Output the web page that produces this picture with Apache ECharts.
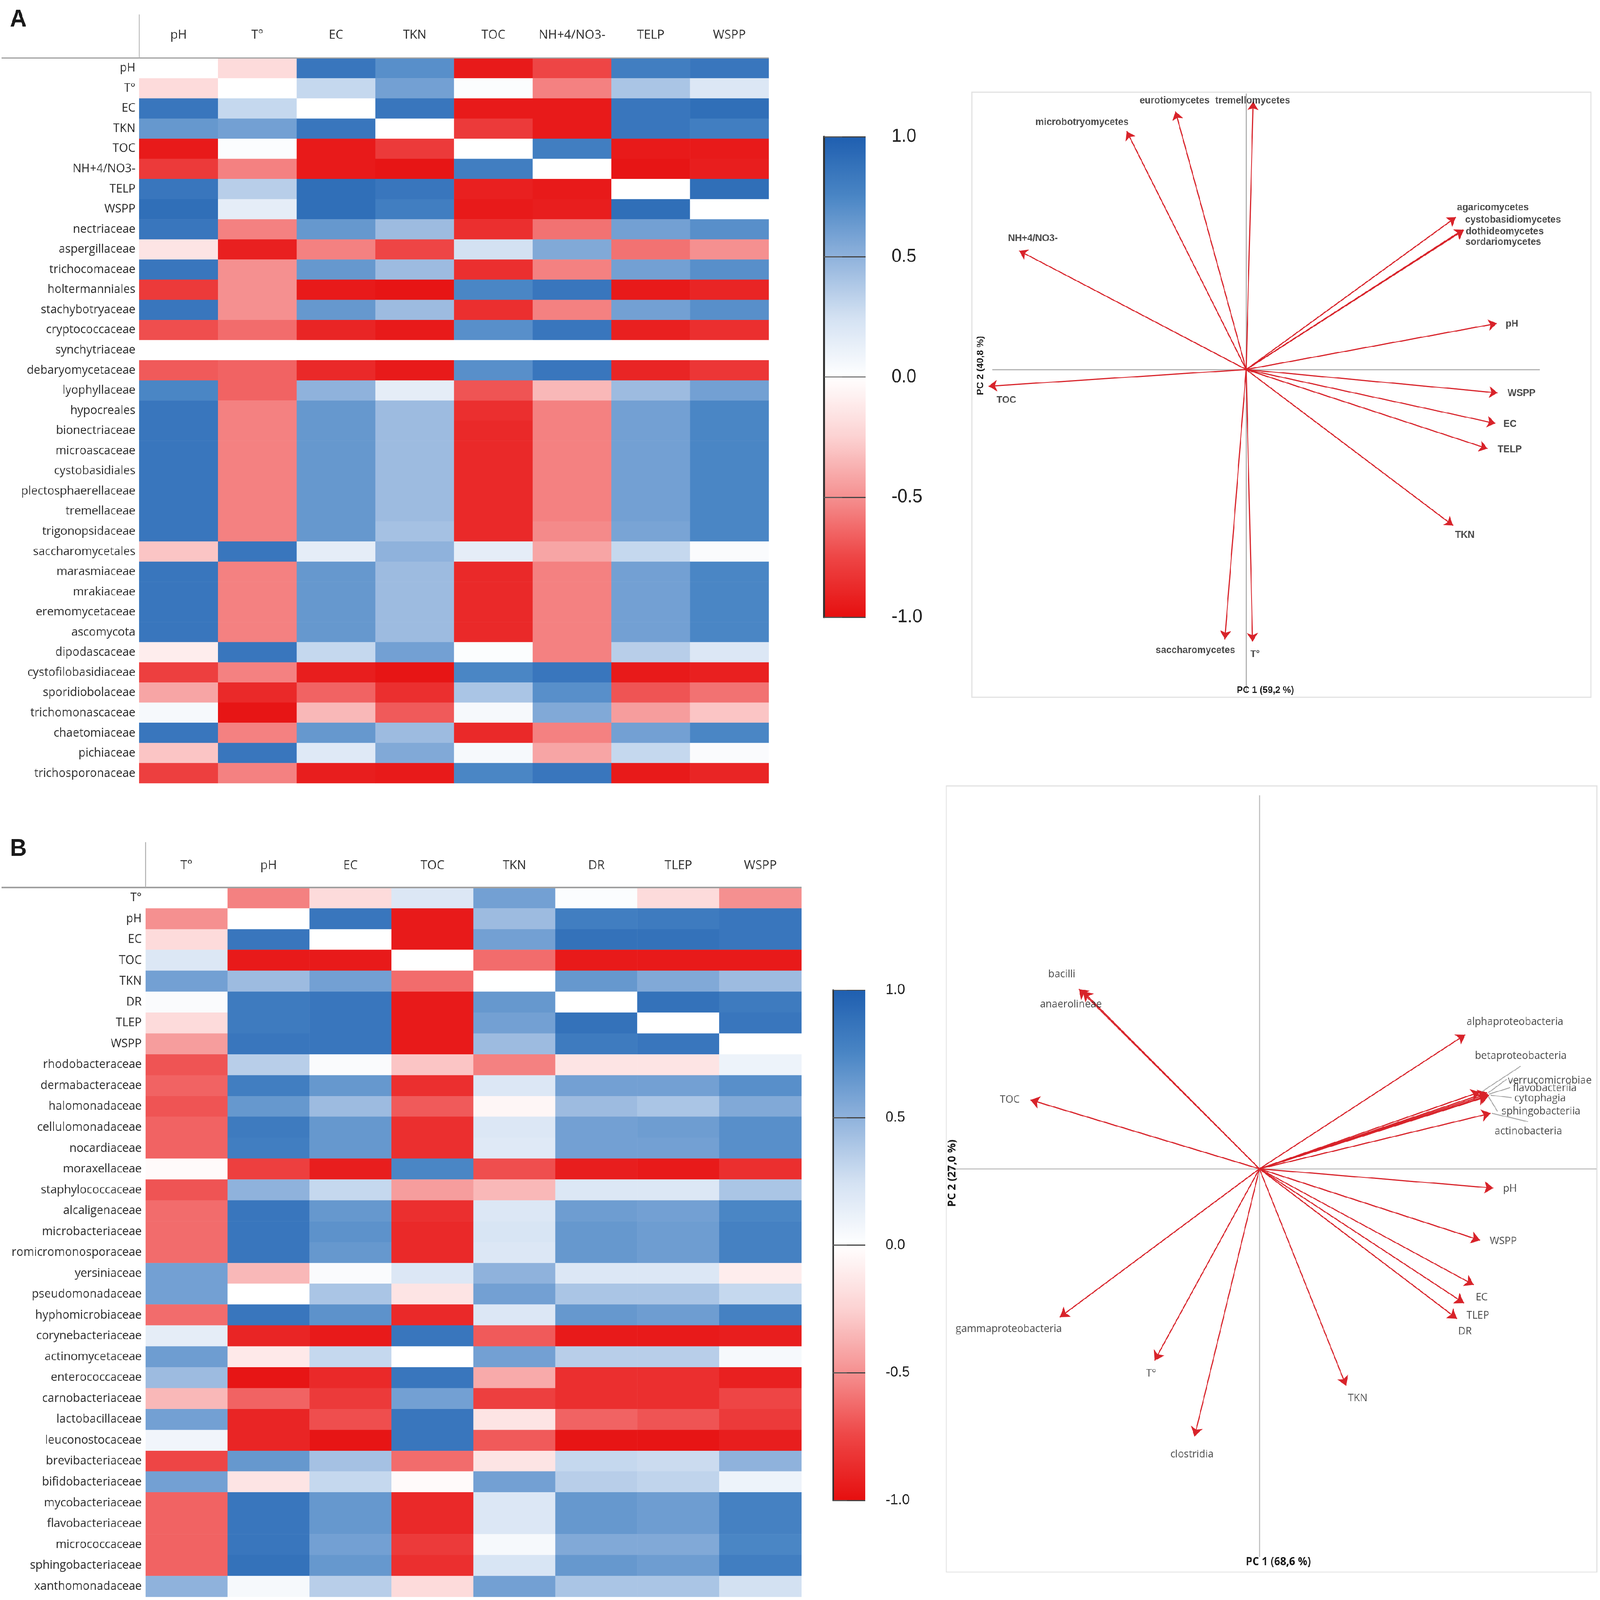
<!DOCTYPE html>
<html><head><meta charset="utf-8">
<script src="https://cdn.jsdelivr.net/npm/echarts@6/dist/echarts.min.js"></script>
<style>html,body{margin:0;padding:0;background:#fff;overflow:hidden}#c{width:4562px;height:4412px;transform-origin:0 0}</style>
</head><body><div id="c"></div>
<script>
// ---------------- Panel A heatmap ----------------
const colsA = ['pH','T°','EC','TKN','TOC','NH+4/NO3-','TELP','WSPP'];
const rowsA = ['pH','T°','EC','TKN','TOC','NH+4/NO3-','TELP','WSPP','nectriaceae','aspergillaceae','trichocomaceae','holtermanniales','stachybotryaceae','cryptococcaceae','synchytriaceae','debaryomycetaceae','lyophyllaceae','hypocreales','bionectriaceae','microascaceae','cystobasidiales','plectosphaerellaceae','tremellaceae','trigonopsidaceae','saccharomycetales','marasmiaceae','mrakiaceae','eremomycetaceae','ascomycota','dipodascaceae','cystofilobasidiaceae','sporidiobolaceae','trichomonascaceae','chaetomiaceae','pichiaceae','trichosporonaceae'];
const valsA = [
 [0,-0.2,0.85,0.7,-0.95,-0.75,0.8,0.85],
 [-0.2,0,0.3,0.6,0.02,-0.55,0.4,0.2],
 [0.85,0.3,0,0.85,-0.95,-0.95,0.85,0.9],
 [0.65,0.6,0.85,0,-0.8,-0.95,0.85,0.8],
 [-0.95,0.02,-0.95,-0.8,0,0.8,-0.95,-0.95],
 [-0.8,-0.55,-0.95,-0.97,0.8,0,-0.97,-0.93],
 [0.85,0.35,0.9,0.85,-0.92,-0.95,0,0.9],
 [0.9,0.15,0.9,0.8,-0.95,-0.93,0.9,0],
 [0.85,-0.55,0.65,0.45,-0.85,-0.6,0.6,0.7],
 [-0.15,-0.92,-0.55,-0.75,0.25,0.55,-0.6,-0.5],
 [0.85,-0.5,0.65,0.45,-0.85,-0.55,0.6,0.7],
 [-0.8,-0.5,-0.95,-0.97,0.75,0.85,-0.95,-0.9],
 [0.85,-0.5,0.65,0.45,-0.85,-0.55,0.6,0.7],
 [-0.72,-0.62,-0.9,-0.95,0.7,0.85,-0.92,-0.85],
 [0,0,0,0,0,0,0,0],
 [-0.68,-0.65,-0.88,-0.95,0.7,0.85,-0.9,-0.82],
 [0.75,-0.65,0.5,0.15,-0.7,-0.35,0.45,0.6],
 [0.85,-0.55,0.65,0.45,-0.85,-0.55,0.6,0.75],
 [0.85,-0.55,0.65,0.45,-0.88,-0.55,0.6,0.75],
 [0.85,-0.55,0.65,0.45,-0.88,-0.55,0.6,0.75],
 [0.85,-0.55,0.65,0.45,-0.88,-0.55,0.6,0.75],
 [0.85,-0.55,0.65,0.45,-0.88,-0.55,0.6,0.75],
 [0.85,-0.55,0.65,0.45,-0.88,-0.55,0.6,0.75],
 [0.85,-0.55,0.65,0.42,-0.88,-0.52,0.58,0.75],
 [-0.3,0.85,0.15,0.5,0.15,-0.42,0.3,0.03],
 [0.85,-0.55,0.65,0.45,-0.88,-0.55,0.6,0.75],
 [0.85,-0.55,0.65,0.45,-0.88,-0.55,0.6,0.75],
 [0.85,-0.55,0.65,0.45,-0.88,-0.55,0.6,0.75],
 [0.85,-0.55,0.65,0.45,-0.88,-0.55,0.6,0.75],
 [-0.1,0.85,0.3,0.6,0.02,-0.55,0.35,0.2],
 [-0.78,-0.55,-0.93,-0.97,0.75,0.85,-0.95,-0.92],
 [-0.42,-0.88,-0.65,-0.85,0.4,0.7,-0.7,-0.6],
 [0.05,-0.97,-0.35,-0.68,0.05,0.55,-0.45,-0.3],
 [0.85,-0.55,0.65,0.45,-0.88,-0.55,0.6,0.75],
 [-0.3,0.85,0.18,0.55,0.05,-0.42,0.3,0.03],
 [-0.78,-0.55,-0.93,-0.95,0.75,0.85,-0.95,-0.9]
];

// ---------------- Panel B heatmap ----------------
const colsB = ['T°','pH','EC','TOC','TKN','DR','TLEP','WSPP'];
const rowsB = ['T°','pH','EC','TOC','TKN','DR','TLEP','WSPP','rhodobacteraceae','dermabacteraceae','halomonadaceae','cellulomonadaceae','nocardiaceae','moraxellaceae','staphylococcaceae','alcaligenaceae','microbacteriaceae','romicromonosporaceae','yersiniaceae','pseudomonadaceae','hyphomicrobiaceae','corynebacteriaceae','actinomycetaceae','enterococcaceae','carnobacteriaceae','lactobacillaceae','leuconostocaceae','brevibacteriaceae','bifidobacteriaceae','mycobacteriaceae','flavobacteriaceae','micrococcaceae','sphingobacteriaceae','xanthomonadaceae'];
const valsB = [
 [0,-0.55,-0.2,0.2,0.6,0.02,-0.2,-0.5],
 [-0.5,0,0.85,-0.95,0.45,0.8,0.82,0.85],
 [-0.2,0.85,0,-0.95,0.6,0.88,0.88,0.85],
 [0.2,-0.95,-0.95,0,-0.62,-0.95,-0.95,-0.95],
 [0.6,0.45,0.6,-0.62,0,0.65,0.55,0.45],
 [0.03,0.82,0.85,-0.95,0.65,0,0.88,0.82],
 [-0.2,0.82,0.85,-0.95,0.6,0.88,0,0.85],
 [-0.45,0.85,0.85,-0.95,0.45,0.82,0.85,0],
 [-0.7,0.35,0.03,-0.3,-0.55,-0.15,-0.15,0.1],
 [-0.65,0.8,0.65,-0.85,0.2,0.6,0.6,0.7],
 [-0.7,0.65,0.45,-0.68,-0.05,0.45,0.4,0.55],
 [-0.65,0.82,0.65,-0.85,0.2,0.6,0.62,0.7],
 [-0.65,0.8,0.65,-0.85,0.18,0.6,0.6,0.7],
 [-0.03,-0.78,-0.93,0.75,-0.72,-0.93,-0.95,-0.85],
 [-0.7,0.5,0.3,-0.45,-0.35,0.2,0.2,0.4],
 [-0.62,0.85,0.65,-0.85,0.2,0.62,0.6,0.75],
 [-0.62,0.85,0.68,-0.88,0.22,0.65,0.62,0.78],
 [-0.62,0.85,0.65,-0.88,0.2,0.65,0.62,0.78],
 [0.6,-0.35,0.03,0.2,0.5,0.2,0.2,-0.1],
 [0.6,0,0.4,-0.15,0.6,0.4,0.4,0.3],
 [-0.62,0.85,0.68,-0.88,0.2,0.65,0.62,0.78],
 [0.15,-0.9,-0.95,0.85,-0.68,-0.95,-0.95,-0.93],
 [0.62,-0.12,0.3,0,0.6,0.35,0.35,0.05],
 [0.45,-0.97,-0.88,0.85,-0.4,-0.85,-0.85,-0.92],
 [-0.35,-0.65,-0.8,0.6,-0.78,-0.85,-0.85,-0.75],
 [0.6,-0.9,-0.72,0.85,-0.15,-0.65,-0.7,-0.8],
 [0.08,-0.9,-0.97,0.85,-0.68,-0.97,-0.97,-0.93],
 [-0.75,0.65,0.42,-0.62,-0.15,0.3,0.28,0.5],
 [0.6,-0.15,0.3,-0.03,0.6,0.35,0.32,0.1],
 [-0.65,0.85,0.65,-0.88,0.2,0.65,0.62,0.78],
 [-0.65,0.85,0.65,-0.88,0.2,0.65,0.62,0.78],
 [-0.65,0.85,0.6,-0.8,0.05,0.55,0.55,0.75],
 [-0.65,0.88,0.65,-0.85,0.22,0.65,0.62,0.8],
 [0.5,0.05,0.35,-0.2,0.6,0.4,0.4,0.25]
];

// ---------------- Panel A biplot (PC1, PC2 loadings) ----------------
const namesPA = ['tremellomycetes','eurotiomycetes','microbotryomycetes','NH+4/NO3-','agaricomycetes','cystobasidiomycetes','dothideomycetes','sordariomycetes','pH','TOC','WSPP','EC','TELP','TKN','saccharomycetes','T°'];
const pc1A = [0.023,-0.232,-0.392,-0.745,0.688,0.712,0.714,0.713,0.822,-0.845,0.825,0.818,0.792,0.679,-0.070,0.021];
const pc2A = [0.850,0.819,0.756,0.377,0.483,0.444,0.442,0.443,0.146,-0.053,-0.074,-0.171,-0.251,-0.495,-0.856,-0.863];
const crossAx = [-0.833,0.964];
const crossAy = [-1.022,0.876];

// ---------------- Panel B biplot ----------------
const namesPB = ['bacilli','anaerolineae','TOC','alphaproteobacteria','betaproteobacteria','verrucomicrobiae','flavobacteriia','cytophagia','sphingobacteriia','actinobacteria','pH','WSPP','EC','TLEP','DR','TKN','clostridia','T°','gammaproteobacteria'];
const pc1B = [-0.515,-0.503,-0.653,0.587,0.629,0.649,0.651,0.655,0.649,0.659,0.667,0.629,0.611,0.583,0.563,0.247,-0.185,-0.299,-0.569];
const pc2B = [0.496,0.489,0.190,0.370,0.212,0.210,0.206,0.203,0.199,0.153,-0.053,-0.197,-0.320,-0.370,-0.413,-0.598,-0.738,-0.529,-0.409];
const crossBx = [-0.887,0.961];
const crossBy = [-1.070,1.030];

// ---------------- style / layout (pixel offsets of labels) ----------------
const labA = {
 'tremellomycetes':[-1,-2,'center'],'eurotiomycetes':[-2,-29,'center'],'microbotryomycetes':[6,-24,'right'],
 'NH+4/NO3-':[-31,-33,'left'],'agaricomycetes':[4,-26,'left'],'cystobasidiomycetes':[6,-26,'left'],
 'dothideomycetes':[6,4,'left'],'sordariomycetes':[6,34,'left'],'pH':[26,2,'left'],'TOC':[23,39,'left'],
 'WSPP':[29,2,'left'],'EC':[23,2,'left'],'TELP':[29,3,'left'],'TKN':[6,27,'left'],
 'saccharomycetes':[30,31,'right'],'T°':[-6,36,'left']
};
const labB = {
 'bacilli':[-48,-40,'center'],'anaerolineae':[-34,36,'center'],'TOC':[-30,0,'right'],
 'alphaproteobacteria':[4,-35,'left'],'betaproteobacteria':[-14,-99,'left'],'verrucomicrobiae':[60,-33,'left'],
 'flavobacteriia':[72,-16,'left'],'cytophagia':[72,9,'left'],'sphingobacteriia':[42,41,'left'],
 'actinobacteria':[12,50,'left'],'pH':[28,2,'left'],'WSPP':[28,3,'left'],'EC':[6,35,'left'],
 'TLEP':[8,35,'left'],'DR':[4,36,'left'],'TKN':[6,35,'left'],'clostridia':[-7,50,'center'],
 'T°':[-9,36,'center'],'gammaproteobacteria':[6,33,'right']
};
const leaderB = {'betaproteobacteria':[130,28],'verrucomicrobiae':[-4,-4],'flavobacteriia':[-8,-2],'cytophagia':[-8,-2],'sphingobacteriia':[-12,0],'actinobacteria':[95,-27]};

function heat(vals){const d=[];vals.forEach((row,r)=>row.forEach((v,c)=>d.push([c,r,v])));return d;}
const scaleColors = ['#e60f0f','#ee4545','#f59090','#fcd2d2','#ffffff','#d3e1f2','#8fb2dc','#4a86c5','#1f5fb0'];
const RED='#d8232a';

// fit the 4562x4412 drawing into whatever CSS viewport the window provides
const host = document.getElementById('c');
const sx = (window.innerWidth || 4562) / 4562, sy = (window.innerHeight || 4412) / 4412;
host.style.transform = 'scale(' + sx + ',' + sy + ')';

const chart = echarts.init(host, null, {renderer:'canvas', width:4562, height:4412});

function heatAxes(gi, cols, rows, margin){
 return {
  x:{type:'category',gridIndex:gi,data:cols,position:'top',axisLine:{show:false},axisTick:{show:false},splitLine:{show:false},
     axisLabel:{interval:0,margin:margin,fontSize:35,color:'#2e2e2e',fontFamily:'Open Sans'}},
  y:{type:'category',gridIndex:gi,data:rows,inverse:true,axisLine:{show:false},axisTick:{show:false},splitLine:{show:false},
     axisLabel:{interval:0,margin:11,fontSize:33,color:'#2e2e2e',fontFamily:'Open Sans'}}
 };
}
const hA = heatAxes(0, colsA, rowsA, 45);
const hB = heatAxes(3, colsB, rowsB, 42);

function barAxisRight(gi, fs, tick, margin){
 return {type:'value',gridIndex:gi,min:-1,max:1,interval:0.5,position:'right',z:10,
  axisLine:{show:true,lineStyle:{color:'#9a9a9a',width:4}},
  axisTick:{show:true,length:tick,lineStyle:{color:'#555',width:3}},
  splitLine:{show:true,lineStyle:{color:'#444',width:3}},
  axisLabel:{margin:margin,fontSize:fs,color:'#222',fontFamily:'Liberation Sans',formatter:v=>v.toFixed(1)}};
}
function barAxisLeft(gi){
 return {type:'value',gridIndex:gi,min:-1,max:1,position:'left',z:10,
  axisLine:{show:true,lineStyle:{color:'#333',width:5}},axisTick:{show:false},axisLabel:{show:false},splitLine:{show:false}};
}
const hidX = (gi,min,max)=>({type:'value',gridIndex:gi,min:min,max:max,show:false});

function arrowData(n,x,y){return n.map((nm,i)=>({name:nm,coords:[[0,0],[x[i],y[i]]]}));}
function labelData(n,x,y,lab){return n.map((nm,i)=>{const o=lab[nm];return {name:nm,value:[x[i],y[i]],
  label:{position:[o[0],o[1]],align:o[2],verticalAlign:'middle'}};});}
function crossData(cx,cy){return [{coords:[[cx[0],0],[cx[1],0]]},{coords:[[0,cy[0]],[0,cy[1]]]}];}

const option = {
 animation:false,
 backgroundColor:'#ffffff',
 textStyle:{fontFamily:'Open Sans'},
 grid:[
  {left:397,top:160,width:1795,height:2000},
  {left:2349,top:377,width:119,height:1325},
  {left:2771,top:254,width:1765,height:1669,show:true,borderColor:'#e2e2e2',borderWidth:3},
  {left:415,top:2447,width:1870,height:1956},
  {left:2375,top:2730,width:92,height:1407},
  {left:2698,top:2167,width:1855,height:2168,show:true,borderColor:'#e2e2e2',borderWidth:3}
 ],
 xAxis:[hA.x, hidX(1,0,1), hidX(2,-0.9,1.131), hB.x, hidX(4,0,1), hidX(5,-0.893,0.962)],
 yAxis:[hA.y, barAxisRight(1,51,52,74), {type:'value',gridIndex:2,min:-1.04,max:0.88,show:false},
        hB.y, barAxisRight(4,40,40,58), {type:'value',gridIndex:5,min:-1.112,max:1.056,show:false},
        barAxisLeft(1), barAxisLeft(4)],
 visualMap:[
  {type:'continuous',min:-1,max:1,seriesIndex:0,calculable:false,orient:'vertical',left:2349,top:377,
   itemWidth:119,itemHeight:1325,padding:0,text:null,inRange:{color:scaleColors},z:4},
  {type:'continuous',min:-1,max:1,seriesIndex:1,calculable:false,orient:'vertical',left:2375,top:2730,
   itemWidth:92,itemHeight:1407,padding:0,text:null,inRange:{color:scaleColors},z:4}
 ],
 series:[
  {type:'heatmap',xAxisIndex:0,yAxisIndex:0,data:heat(valsA),itemStyle:{borderWidth:0},emphasis:{disabled:true},progressive:0},
  {type:'heatmap',xAxisIndex:3,yAxisIndex:3,data:heat(valsB),itemStyle:{borderWidth:0},emphasis:{disabled:true},progressive:0},
  {type:'lines',coordinateSystem:'cartesian2d',xAxisIndex:2,yAxisIndex:2,data:crossData(crossAx,crossAy),
   symbol:'none',lineStyle:{color:'#b4b4b4',width:3,opacity:1},silent:true},
  {type:'lines',coordinateSystem:'cartesian2d',xAxisIndex:2,yAxisIndex:2,data:arrowData(namesPA,pc1A,pc2A),
   symbol:['none','arrow'],symbolSize:24,lineStyle:{color:RED,width:3,opacity:1},silent:true},
  {type:'scatter',xAxisIndex:2,yAxisIndex:2,data:labelData(namesPA,pc1A,pc2A,labA),symbolSize:1,
   itemStyle:{color:'rgba(0,0,0,0)'},silent:true,
   label:{show:true,formatter:'{b}',fontSize:27,fontWeight:'bold',color:'#1e1e1e',fontFamily:'Liberation Sans'}},
  {type:'lines',coordinateSystem:'cartesian2d',xAxisIndex:5,yAxisIndex:5,data:crossData(crossBx,crossBy),
   symbol:'none',lineStyle:{color:'#c4c4c4',width:3,opacity:1},silent:true},
  {type:'lines',coordinateSystem:'cartesian2d',xAxisIndex:5,yAxisIndex:5,data:arrowData(namesPB,pc1B,pc2B),
   symbol:['none','arrow'],symbolSize:26,lineStyle:{color:RED,width:3,opacity:1},silent:true},
  {type:'scatter',xAxisIndex:5,yAxisIndex:5,data:labelData(namesPB,pc1B,pc2B,labB),symbolSize:1,
   itemStyle:{color:'rgba(0,0,0,0)'},silent:true,
   label:{show:true,formatter:'{b}',fontSize:29,color:'#222',fontFamily:'Open Sans'}}
 ]
};
chart.setOption(option);

// graphic overlay: panel letters, separators, PC titles, leader lines
const g = [];
function txt(t,x,y,font,rot){g.push({type:'text',x:x,y:y,rotation:rot||0,z:20,
  style:{text:t,font:font,fill:'#1a1a1a',textAlign:'center',textVerticalAlign:'middle',align:'center',verticalAlign:'middle'}});}
function ln(x1,y1,x2,y2,c,w){g.push({type:'line',z:20,shape:{x1:x1,y1:y1,x2:x2,y2:y2},style:{stroke:c,lineWidth:w}});}
txt('A',52,55,'bold 66px Liberation Sans');
txt('B',52,2342,'bold 66px Liberation Sans');
ln(5,160,2192,160,'#a0a0a0',4); ln(397,40,397,160,'#b0b0b0',3);
ln(5,2447,2285,2447,'#a0a0a0',4); ln(415,2322,415,2447,'#b0b0b0',3);
txt('PC 1 (59,2 %)',3608,1904,'bold 26px Liberation Sans');
txt('PC 2 (40,8 %)',2796,1008,'bold 26px Liberation Sans',Math.PI/2);
txt('PC 1 (68,6 %)',3645,4307,'bold 30px Open Sans');
txt('PC 2 (27,0 %)',2715,3235,'bold 30px Open Sans',Math.PI/2);
namesPB.forEach((nm,i)=>{
 if(!leaderB[nm]) return;
 const p = chart.convertToPixel({gridIndex:5},[pc1B[i],pc2B[i]]);
 const o = labB[nm], e = leaderB[nm];
 ln(p[0]+4,p[1],p[0]+o[0]+e[0],p[1]+o[1]+e[1],'#a8a8a8',2.5);
});
chart.setOption({graphic:{elements:g}});
</script></body></html>
